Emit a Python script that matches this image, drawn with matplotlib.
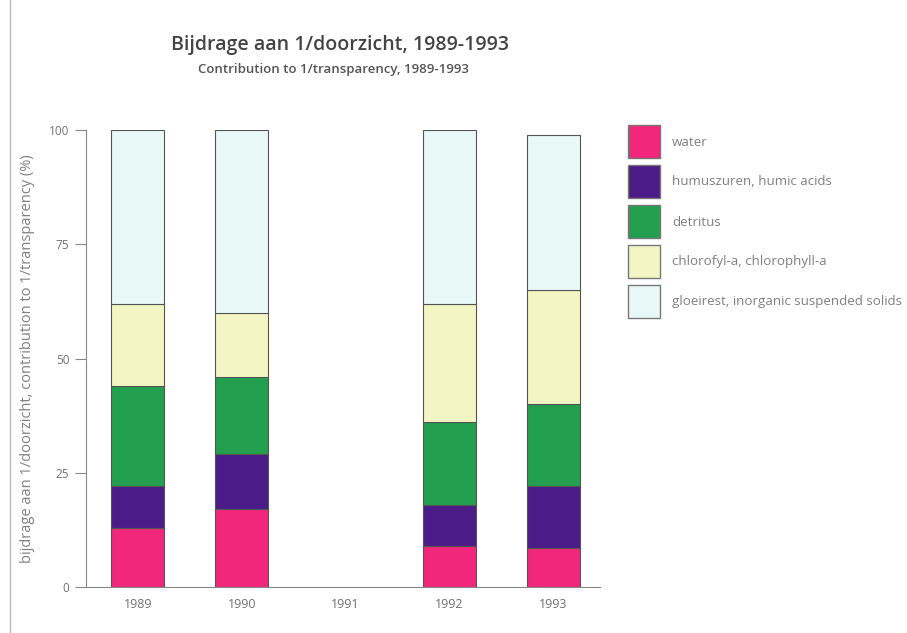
import matplotlib
matplotlib.use("Agg")
import matplotlib.pyplot as plt
from matplotlib.patches import Rectangle
from matplotlib.lines import Line2D
import numpy as np

years = ["1989", "1990", "1991", "1992", "1993"]
water = [13, 17, 0, 9, 8.5]
humic = [9, 12, 0, 9, 13.5]
detritus = [22, 17, 0, 18, 18]
chlorophyll = [18, 14, 0, 26, 25]
inorganic = [38, 40, 0, 38, 34]

series_labels = ["water", "humuszuren, humic acids", "detritus",
                 "chlorofyl-a, chlorophyll-a", "gloeirest, inorganic suspended solids"]
series_values = [water, humic, detritus, chlorophyll, inorganic]
colors = ["#f2267a", "#4b1c88", "#22a050", "#f3f6c4", "#e8f9f8"]

plt.rcParams['font.family'] = ['Open Sans', 'DejaVu Sans']
txt = "#707070"

fig = plt.figure(figsize=(9.07, 6.33), dpi=100)
ax = fig.add_axes([86/907, 1-587/633, (600-86)/907, (587-130)/633])

x = np.arange(len(years))
bottom = np.zeros(len(years))
for vals, col, lab in zip(series_values, colors, series_labels):
    v = np.array(vals, dtype=float)
    lws = [0.8 if val > 0 else 0 for val in v]
    ax.bar(x, v, bottom=bottom, width=0.51, color=col, edgecolor="#555555",
           linewidth=lws, label=lab)
    bottom += v

ax.set_xlim(-0.5, 4.45)
ax.set_ylim(0, 100)
ax.set_xticks(x)
ax.set_xticklabels(years)
ax.set_yticks([0, 25, 50, 75, 100])
ax.tick_params(axis='x', length=0, pad=8, labelsize=9, labelcolor=txt)
ax.tick_params(axis='y', length=8, width=0.8, color="#888888", pad=4, labelsize=8.5, labelcolor=txt)
for s in ["top", "right"]:
    ax.spines[s].set_visible(False)
for s in ["left", "bottom"]:
    ax.spines[s].set_color("#888888")
    ax.spines[s].set_linewidth(0.8)
ax.set_ylabel("bijdrage aan 1/doorzicht, contribution to 1/transparency (%)",
              fontsize=10.5, color="#808080", labelpad=10)

fig.text(340/907, 1-45/633, "Bijdrage aan 1/doorzicht, 1989-1993", ha="center", va="center",
         fontsize=14, color="#444444", fontweight="semibold")
fig.text(334/907, 1-69/633, "Contribution to 1/transparency, 1989-1993", ha="center", va="center",
         fontsize=9.5, color="#555555", fontweight="semibold")

# legend drawn manually
for i, (lab, col) in enumerate(zip(series_labels, colors)):
    y0 = 125 + i * 40
    fig.patches.append(Rectangle((628/907, 1-(y0+33)/633), 32/907, 33/633,
                                 transform=fig.transFigure, facecolor=col,
                                 edgecolor="#777777", linewidth=1.0))
    fig.text(672/907, 1-(y0+17)/633, lab, ha="left", va="center", fontsize=9.6, color="#808080")

# scanned page border
fig.add_artist(Line2D([10/907, 10/907], [0, 1], transform=fig.transFigure, color="#bbbbbb", lw=1.0))

fig.savefig("out.png", dpi=100)
